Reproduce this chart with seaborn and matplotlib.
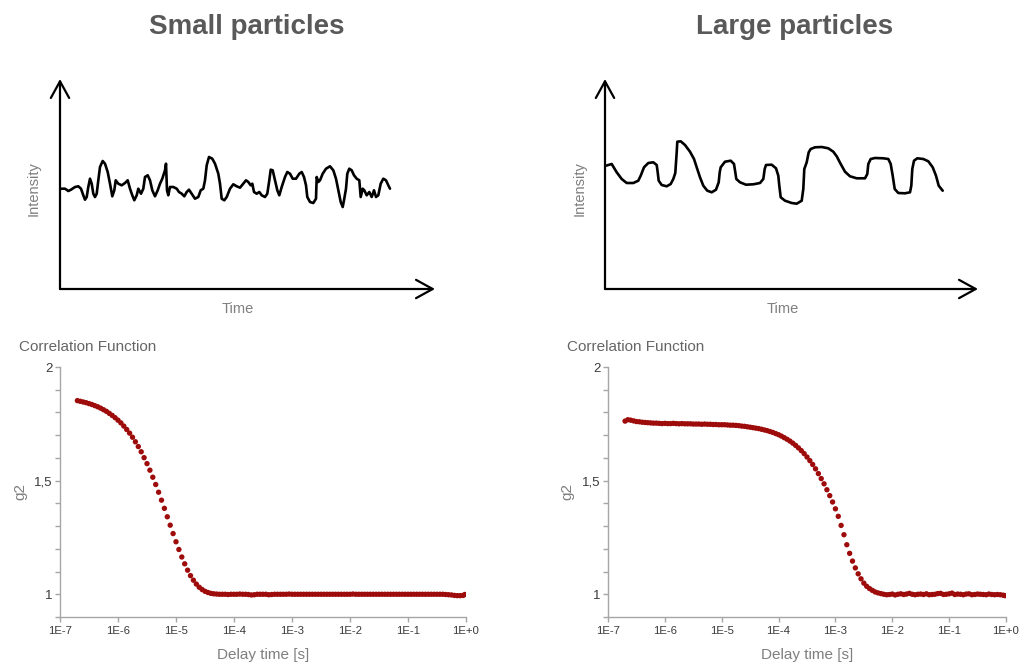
import numpy as np
import pandas as pd
import matplotlib
matplotlib.use("Agg")
import matplotlib.pyplot as plt
from matplotlib.ticker import FixedLocator, FuncFormatter, NullLocator, MultipleLocator
import seaborn as sns

# ---------------- data ----------------
TITLES = ["Small particles", "Large particles"]

# intensity traces (arbitrary units)
SMALL_TIME = [0, 0.5, 0.83, 1.1, 1.5, 1.83, 2.1, 2.33, 2.5, 2.67, 2.83, 3.0, 3.17, 3.33, 3.5, 3.67,
              3.83, 4.0, 4.27, 4.5, 4.77, 5.0, 5.23, 5.43, 5.57, 5.83, 6.17, 6.5, 6.77, 7.0, 7.23,
              7.43, 7.67, 7.83, 8.1, 8.33, 8.5, 8.77, 9.0, 9.23, 9.5, 9.77, 10.0, 10.23, 10.5,
              10.6, 10.7, 10.83, 11.0, 11.33, 11.67, 11.9, 12.17, 12.43, 12.67, 12.9, 13.17, 13.5,
              13.83, 14.07, 14.33, 14.5, 14.67, 14.9, 15.23, 15.5, 15.83, 16.0, 16.17, 16.43,
              16.67, 17.0, 17.33, 17.67, 18.0, 18.33, 18.6, 18.83, 19.07, 19.23, 19.4, 19.67,
              19.93, 20.17, 20.5, 20.73, 20.93, 21.07, 21.27, 21.5, 21.73, 21.93, 22.17, 22.5,
              22.73, 23.0, 23.27, 23.6, 23.93, 24.17, 24.4, 24.6, 24.73, 25.0, 25.33, 25.6, 25.67,
              25.83, 26.0, 26.27, 26.6, 27.0, 27.33, 27.6, 27.83, 28.07, 28.27, 28.4, 28.6, 28.73,
              28.93, 29.17, 29.4, 29.67, 29.93, 30.07, 30.27, 30.43, 30.67, 30.93, 31.17, 31.4,
              31.6, 31.83, 32.07, 32.33, 32.6, 32.83, 33.0]
SMALL_INTENSITY = [10.03, 10.03, 9.8, 9.93, 10.2, 10.27, 10.03, 9.37, 8.93, 9.2, 10.2, 11.03, 10.53,
                   9.53, 9.2, 9.53, 10.87, 12.2, 12.8, 12.53, 11.7, 10.53, 9.27, 9.87, 10.87, 10.53,
                   10.37, 10.6, 10.87, 10.03, 9.37, 8.87, 9.37, 10.03, 9.53, 10.03, 11.2, 11.37,
                   10.87, 9.87, 9.27, 9.87, 10.53, 11.03, 11.87, 12.53, 9.87, 9.37, 10.2, 10.2,
                   10.03, 9.7, 9.53, 9.27, 9.7, 9.93, 9.53, 9.03, 9.2, 9.87, 10.03, 10.87, 12.37,
                   13.2, 13.03, 12.53, 11.53, 10.53, 9.03, 8.87,
                   9.2, 10.03, 10.47, 10.27, 10.13, 10.53, 10.87, 10.7, 10.37, 10.53, 9.7, 9.53,
                   9.7, 9.37, 9.2, 9.53, 10.87, 11.93, 11.87, 10.87, 9.87, 9.37, 10.2, 11.2, 11.7,
                   11.53, 11.03, 11.03, 11.53, 11.7, 11.2, 10.37, 9.2, 8.7, 8.6, 9.03, 11.2, 10.7,
                   10.87, 11.53, 12.03, 12.27, 11.87, 11.03, 9.87, 8.7, 8.2, 8.87, 10.03, 11.53,
                   12.03, 11.87, 11.37, 11.03, 10.87, 9.2, 10.03, 9.87, 9.37, 9.7, 9.2, 9.87, 9.2,
                   9.37, 10.53, 11.03, 10.87, 10.37, 10.03]

LARGE_TIME = [0.1, 0.67, 1.17, 1.67, 2.17, 2.83, 3.33, 3.57, 3.9, 4.33, 4.83, 5.17, 5.27, 5.37,
              5.67, 6.17, 6.57, 6.83, 7.03, 7.17, 7.23, 7.57, 8.0, 8.5, 8.9, 9.17, 9.5, 9.83,
              10.23, 10.67, 11.1, 11.37, 11.47, 11.57, 12.0, 12.57, 12.9, 13.03, 13.13, 13.5,
              14.1, 14.83, 15.5, 15.83, 15.97, 16.1, 16.67, 17.1, 17.33, 17.43, 17.57, 18.0,
              18.67, 19.17, 19.67, 19.83, 19.93, 20.17, 20.37, 20.57, 21.0, 21.67, 22.33, 22.83,
              23.17, 23.57, 24.0, 24.5, 25.17, 26.0, 26.23, 26.33, 26.57, 27.0, 27.83, 28.33,
              28.57, 28.77, 28.97, 29.33, 30.0, 30.5, 30.63, 30.73, 30.9, 31.23, 31.83, 32.33,
              32.77, 33.1, 33.37, 33.77]
LARGE_INTENSITY = [12.33, 12.5, 11.67, 11.0, 10.6, 10.6, 10.83, 11.33, 12.17, 12.6, 12.67, 12.4,
                   11.67, 10.83, 10.4, 10.27, 10.5, 11.0, 11.6, 13.67, 14.73, 14.77, 14.4, 13.73,
                   13.0, 12.17, 11.17, 10.33, 9.83, 9.67, 9.93, 10.67, 11.67, 12.17, 12.73, 12.83,
                   12.5, 11.67, 11.0, 10.67, 10.43, 10.47, 10.6, 11.0, 12.0, 12.4, 12.43, 12.07,
                   11.33, 10.33, 9.17, 8.83, 8.6, 8.53, 8.83, 10.0, 12.0, 12.67, 13.67, 14.0, 14.17,
                   14.2, 14.07, 13.73, 13.27, 12.5, 11.73, 11.27, 11.07, 11.07, 11.5, 12.5, 13.0,
                   13.1, 13.07, 13.0, 12.5, 11.33, 10.0, 9.6, 9.57, 9.67, 10.33, 12.0, 12.83, 13.07,
                   13.0, 12.77, 12.17, 11.33, 10.33, 9.83]

# correlation functions: delay time exponent (log10 s) and g2
DELAY_EXP = [-6.70, -6.65, -6.60, -6.55, -6.50, -6.45, -6.40, -6.35, -6.30, -6.25,
             -6.20, -6.15, -6.10, -6.05, -6.00, -5.95, -5.90, -5.85, -5.80, -5.75,
             -5.70, -5.65, -5.60, -5.55, -5.50, -5.45, -5.40, -5.35, -5.30, -5.25,
             -5.20, -5.15, -5.10, -5.05, -5.00, -4.95, -4.90, -4.85, -4.80, -4.75,
             -4.70, -4.65, -4.60, -4.55, -4.50, -4.45, -4.40, -4.35, -4.30, -4.25,
             -4.20, -4.15, -4.10, -4.05, -4.00, -3.95, -3.90, -3.85, -3.80, -3.75,
             -3.70, -3.65, -3.60, -3.55, -3.50, -3.45, -3.40, -3.35, -3.30, -3.25,
             -3.20, -3.15, -3.10, -3.05, -3.00, -2.95, -2.90, -2.85, -2.80, -2.75,
             -2.70, -2.65, -2.60, -2.55, -2.50, -2.45, -2.40, -2.35, -2.30, -2.25,
             -2.20, -2.15, -2.10, -2.05, -2.00, -1.95, -1.90, -1.85, -1.80, -1.75,
             -1.70, -1.65, -1.60, -1.55, -1.50, -1.45, -1.40, -1.35, -1.30, -1.25,
             -1.20, -1.15, -1.10, -1.05, -1.00, -0.95, -0.90, -0.85, -0.80, -0.75,
             -0.70, -0.65, -0.60, -0.55, -0.50, -0.45, -0.40, -0.35, -0.30, -0.25,
             -0.20, -0.15, -0.10, -0.05, -0.02]

G2_SMALL = [1.852, 1.849, 1.846, 1.843, 1.839, 1.835, 1.830, 1.825, 1.819, 1.812,
            1.805, 1.796, 1.787, 1.777, 1.766, 1.754, 1.740, 1.725, 1.709, 1.691,
            1.671, 1.650, 1.627, 1.601, 1.575, 1.546, 1.515, 1.483, 1.449, 1.414,
            1.378, 1.341, 1.304, 1.267, 1.231, 1.197, 1.164, 1.134, 1.106, 1.082,
            1.062, 1.045, 1.031, 1.021, 1.013, 1.008, 1.004, 1.002, 1.001, 1.000,
            1.000, 1.000, 0.999, 1.000, 1.000, 1.000, 1.001, 1.000, 1.000, 0.999,
            0.997, 0.998, 1.000, 1.000, 1.000, 1.000, 0.998, 0.999, 1.000, 1.000,
            1.000, 1.000, 1.000, 1.001, 1.000, 1.000, 1.000, 1.000, 1.000, 1.000,
            1.000, 1.000, 1.000, 1.000, 1.000, 1.000, 1.000, 1.000, 1.000, 1.000,
            1.000, 1.000, 1.000, 1.000, 1.000, 1.001, 1.000, 1.000, 1.000, 1.000,
            1.000, 1.000, 1.000, 1.000, 1.000, 1.000, 1.000, 1.000, 1.000, 1.000,
            1.000, 1.000, 1.000, 1.000, 1.000, 1.000, 1.000, 1.000, 1.000, 1.000,
            1.000, 1.000, 1.000, 1.000, 1.000, 1.000, 1.000, 0.999, 0.998, 0.997,
            0.995, 0.994, 0.994, 0.995, 0.999]

G2_LARGE = [1.762, 1.768, 1.766, 1.763, 1.760, 1.759, 1.757, 1.756, 1.755, 1.754,
            1.753, 1.753, 1.752, 1.751, 1.752, 1.751, 1.751, 1.752, 1.751, 1.750,
            1.751, 1.750, 1.750, 1.750, 1.749, 1.749, 1.749, 1.748, 1.749, 1.748,
            1.748, 1.747, 1.747, 1.746, 1.746, 1.746, 1.745, 1.744, 1.744, 1.743,
            1.742, 1.740, 1.739, 1.737, 1.735, 1.733, 1.731, 1.729, 1.726, 1.723,
            1.720, 1.716, 1.712, 1.707, 1.702, 1.696, 1.689, 1.682, 1.674, 1.665,
            1.655, 1.644, 1.632, 1.619, 1.604, 1.588, 1.571, 1.552, 1.531, 1.509,
            1.486, 1.460, 1.434, 1.406, 1.376, 1.343, 1.303, 1.262, 1.218, 1.180,
            1.146, 1.116, 1.090, 1.068, 1.049, 1.035, 1.025, 1.017, 1.010, 1.006,
            1.003, 1.000, 0.998, 0.999, 1.001, 0.997, 1.000, 1.002, 0.999, 1.001,
            1.004, 1.000, 0.998, 1.000, 1.001, 0.999, 1.002, 0.998, 0.999, 1.000,
            1.003, 1.004, 0.999, 1.000, 1.002, 1.005, 0.999, 1.001, 1.000, 0.998,
            1.001, 1.002, 0.998, 0.999, 1.001, 1.000, 0.999, 0.998, 1.001, 0.999,
            0.998, 0.999, 0.998, 0.996, 0.994]

X_TICK_EXP = [-7, -6, -5, -4, -3, -2, -1, 0]
X_TICK_LABELS = ["1E-7", "1E-6", "1E-5", "1E-4", "1E-3", "1E-2", "1E-1", "1E+0"]
Y_LABELED = {1.0: "1", 1.5: "1,5", 2.0: "2"}

# ---------------- style ----------------
sns.set_theme(style="white")
plt.rcParams["font.family"] = ["Liberation Sans", "DejaVu Sans"]

W, H = 1020, 664
fig = plt.figure(figsize=(W / 100, H / 100), dpi=100)
fig.patch.set_facecolor("white")


def px_axes(left, top, right, bottom):
    return fig.add_axes([left / W, 1 - bottom / H, (right - left) / W, (bottom - top) / H])


def ftext(x, y, s, **kw):
    fig.text(x / W, 1 - y / H, s, **kw)


TITLE_C = "#595959"
LABEL_C = "#7f7f7f"
TICK_C = "#3a3a3a"
SPINE_C = "#a6a6a6"
DOT_C = "#9e0b0b"

# ---------------- intensity traces ----------------
traces = [(SMALL_TIME, SMALL_INTENSITY), (LARGE_TIME, LARGE_INTENSITY)]
top_boxes = [(60, 79, 435, 289), (605, 79, 978, 289)]
for (t, inten), box in zip(traces, top_boxes):
    ax = px_axes(*box)
    df = pd.DataFrame({"t": t, "I": inten})
    sns.lineplot(data=df, x="t", y="I", ax=ax, sort=False, estimator=None,
                 color="black", lw=1.9, solid_joinstyle="round", solid_capstyle="round")
    ax.set_xlim(0, (box[2] - box[0]) / 10)
    ax.set_ylim(0, (box[3] - box[1]) / 10)
    for s in ax.spines.values():
        s.set_visible(False)
    ax.set_xticks([])
    ax.set_yticks([])
    ax.set_xlabel("")
    ax.set_ylabel("")
    ax.patch.set_alpha(0)
    arrow = dict(arrowstyle="->,head_length=0.6,head_width=0.33", lw=1.6, color="black",
                 shrinkA=0, shrinkB=0, mutation_scale=20)
    ax.annotate("", xy=(1, 0), xytext=(0, 0), xycoords="axes fraction", arrowprops=arrow,
                annotation_clip=False)
    ax.annotate("", xy=(0, 1), xytext=(0, 0), xycoords="axes fraction", arrowprops=arrow,
                annotation_clip=False)

ftext(247, 27, TITLES[0], ha="center", va="center", fontsize=20, fontweight="bold", color=TITLE_C)
ftext(795, 27, TITLES[1], ha="center", va="center", fontsize=20, fontweight="bold", color=TITLE_C)
for x in (34, 580):
    ftext(x, 189, "Intensity", ha="center", va="center", rotation=90, fontsize=10.5, color=LABEL_C)
for x in (238, 783):
    ftext(x, 309, "Time", ha="center", va="center", fontsize=10.5, color=LABEL_C)

# ---------------- correlation functions ----------------
delay = [10.0 ** e for e in DELAY_EXP]
series = [G2_SMALL, G2_LARGE]
bot_boxes = [(60, 367, 466, 617), (608, 367, 1006, 617)]
for g2, box in zip(series, bot_boxes):
    ax = px_axes(*box)
    df = pd.DataFrame({"delay": delay, "g2": g2})
    sns.scatterplot(data=df, x="delay", y="g2", ax=ax, s=15, color=DOT_C, linewidth=0,
                    edgecolor="none")
    ax.set_xscale("log")
    ax.set_xlim(10.0 ** X_TICK_EXP[0], 10.0 ** X_TICK_EXP[-1])
    ax.set_ylim(0.9, 2.0)
    ax.xaxis.set_major_locator(FixedLocator([10.0 ** e for e in X_TICK_EXP]))
    ax.xaxis.set_minor_locator(NullLocator())
    ax.set_xticklabels(X_TICK_LABELS)
    ax.yaxis.set_major_locator(MultipleLocator(0.1))
    ax.yaxis.set_minor_locator(NullLocator())
    ax.yaxis.set_major_formatter(FuncFormatter(
        lambda v, p: Y_LABELED.get(round(v, 2), "")))
    for side in ("top", "right"):
        ax.spines[side].set_visible(False)
    for side in ("left", "bottom"):
        ax.spines[side].set_color(SPINE_C)
        ax.spines[side].set_linewidth(1.0)
    ax.tick_params(axis="x", which="major", direction="out", length=3.5, width=1,
                   color=SPINE_C, labelsize=8.2, labelcolor=TICK_C, pad=3, bottom=True)
    ax.tick_params(axis="y", which="major", direction="out", length=3.5, width=1,
                   color=SPINE_C, labelsize=9.5, labelcolor=TICK_C, pad=2, left=True)
    ax.set_xlabel("")
    ax.set_ylabel("")
    ax.patch.set_alpha(0)
    ax.grid(False)

for x in (19, 567):
    ftext(x, 347, "Correlation Function", ha="left", va="center", fontsize=11, color="#666666")
for x in (20, 567):
    ftext(x, 491, "g2", ha="center", va="center", rotation=90, fontsize=11, color=LABEL_C)
for x in (263, 807):
    ftext(x, 655, "Delay time [s]", ha="center", va="center", fontsize=11, color=LABEL_C)

fig.savefig("out.png", dpi=100, facecolor="white")
